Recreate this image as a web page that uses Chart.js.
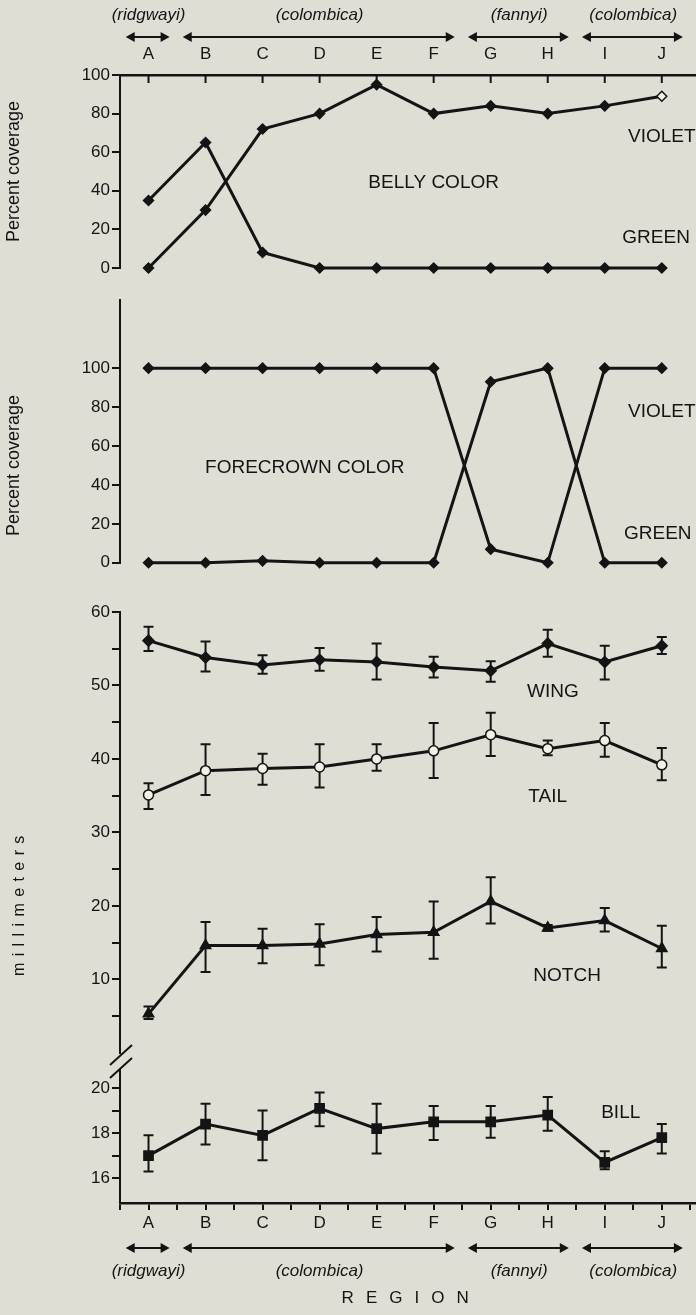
<!DOCTYPE html>
<html>
<head>
<meta charset="utf-8">
<script src="https://cdn.jsdelivr.net/npm/chart.js@4.4.1/dist/chart.umd.min.js"></script>
<style>
  body { margin: 0; background: #dfded5; width: 696px; height: 1315px; position: relative; overflow: hidden; }
  canvas { position: absolute; left: 0; }
</style>
</head>
<body>
<canvas id="belly" width="696" height="290" style="top:0"></canvas>
<canvas id="crown" width="696" height="290" style="top:285px"></canvas>
<canvas id="size" width="696" height="475" style="top:590px"></canvas>
<canvas id="bill" width="696" height="275" style="top:1040px"></canvas>
<script>
const ink = '#141414';
const paper = '#f1f0e9';
const SANS = "'Liberation Sans', Arial, sans-serif";

// regions and subspecies ranges
const regions = ['A', 'B', 'C', 'D', 'E', 'F', 'G', 'H', 'I', 'J'];
const subspecies = ['(ridgwayi)', '(colombica)', '(fannyi)', '(colombica)'];
const subspeciesFirst = [0, 1, 6, 8];
const subspeciesLast = [0, 5, 7, 9];

// percent coverage
const bellyViolet = [0, 30, 72, 80, 95, 80, 84, 80, 84, 89];
const bellyGreen = [35, 65, 8, 0, 0, 0, 0, 0, 0, 0];
const crownViolet = [100, 100, 100, 100, 100, 100, 7, 0, 100, 100];
const crownGreen = [0, 0, 1, 0, 0, 0, 93, 100, 0, 0];

// millimeters, mean with range bars
const wing = [56.1, 53.8, 52.8, 53.5, 53.2, 52.5, 52.0, 55.7, 53.2, 55.4];
const wingLow = [54.7, 51.9, 51.6, 52.0, 50.8, 51.1, 50.5, 53.9, 50.8, 54.3];
const wingHigh = [58.0, 56.0, 54.1, 55.1, 55.7, 53.9, 53.3, 57.6, 55.4, 56.6];
const tail = [35.1, 38.4, 38.7, 38.9, 40.0, 41.1, 43.3, 41.4, 42.5, 39.2];
const tailLow = [33.2, 35.1, 36.5, 36.1, 38.4, 37.4, 40.4, 40.5, 40.3, 37.1];
const tailHigh = [36.7, 42.0, 40.7, 42.0, 42.0, 44.9, 46.3, 42.5, 44.9, 41.5];
const notch = [5.3, 14.6, 14.6, 14.8, 16.1, 16.4, 20.6, 17.0, 18.0, 14.2];
const notchLow = [4.6, 11.0, 12.2, 11.9, 13.8, 12.8, 17.6, 16.6, 16.5, 11.6];
const notchHigh = [6.3, 17.8, 16.9, 17.5, 18.5, 20.6, 23.9, 17.4, 19.7, 17.3];
const bill = [17.0, 18.4, 17.9, 19.1, 18.2, 18.5, 18.5, 18.8, 16.7, 17.8];
const billLow = [16.3, 17.5, 16.8, 18.3, 17.1, 17.7, 17.8, 18.1, 16.4, 17.1];
const billHigh = [17.9, 19.3, 19.0, 19.8, 19.3, 19.2, 19.2, 19.6, 17.2, 18.4];

function series(label, values, style, radius, fill) {
  return {
    label: label,
    data: values.map((v, i) => ({ x: i, y: v })),
    borderColor: ink,
    borderWidth: 3,
    pointStyle: style,
    pointRadius: radius,
    pointBackgroundColor: fill || ink,
    pointBorderColor: ink,
    pointBorderWidth: 1.5,
    tension: 0,
    clip: false
  };
}

function withBars(ds, low, high) {
  ds.errLow = low;
  ds.errHigh = high;
  return ds;
}

function arrow(ctx, x1, x2, y) {
  const h = 9, w = 5;
  ctx.lineWidth = 2;
  ctx.beginPath();
  ctx.moveTo(x1 + h - 2, y);
  ctx.lineTo(x2 - h + 2, y);
  ctx.stroke();
  ctx.beginPath();
  ctx.moveTo(x1, y); ctx.lineTo(x1 + h, y - w); ctx.lineTo(x1 + h, y + w); ctx.closePath();
  ctx.moveTo(x2, y); ctx.lineTo(x2 - h, y - w); ctx.lineTo(x2 - h, y + w); ctx.closePath();
  ctx.fill();
}

const decor = {
  id: 'decor',
  beforeDatasetsDraw(chart) {
    const { ctx, scales: { x, y } } = chart;
    ctx.save();
    ctx.strokeStyle = ink;
    ctx.lineWidth = 2;
    chart.data.datasets.forEach(ds => {
      if (!ds.errLow) return;
      ds.errLow.forEach((lo, i) => {
        const px = x.getPixelForValue(i);
        const top = y.getPixelForValue(ds.errHigh[i]);
        const bot = y.getPixelForValue(lo);
        ctx.beginPath();
        ctx.moveTo(px, top); ctx.lineTo(px, bot);
        ctx.moveTo(px - 5, top); ctx.lineTo(px + 5, top);
        ctx.moveTo(px - 5, bot); ctx.lineTo(px + 5, bot);
        ctx.stroke();
      });
    });
    ctx.restore();
  },
  afterDraw(chart, args, o) {
    const { ctx, chartArea: a, scales: { x, y } } = chart;
    ctx.save();
    ctx.fillStyle = ink;
    ctx.strokeStyle = ink;

    if (o.innerTicks) {
      ctx.lineWidth = 2;
      regions.forEach((r, i) => {
        const px = x.getPixelForValue(i);
        ctx.beginPath(); ctx.moveTo(px, a.top); ctx.lineTo(px, a.top + 8); ctx.stroke();
      });
    }

    if (o.groups) {
      const yArrow = o.groups === 'top' ? a.top - 38 : a.bottom + 45;
      const yText = o.groups === 'top' ? a.top - 60 : a.bottom + 68;
      ctx.font = 'italic 17px ' + SANS;
      ctx.textAlign = 'center';
      ctx.textBaseline = 'middle';
      subspecies.forEach((name, i) => {
        const x1 = x.getPixelForValue(subspeciesFirst[i] - 0.4);
        const x2 = x.getPixelForValue(subspeciesLast[i] + 0.37);
        arrow(ctx, x1, x2, yArrow);
        ctx.fillText(name, x.getPixelForValue((subspeciesFirst[i] + subspeciesLast[i]) / 2), yText);
      });
    }

    (o.labels || []).forEach(l => {
      ctx.font = '19px ' + SANS;
      ctx.textAlign = 'center';
      ctx.textBaseline = 'middle';
      ctx.fillText(l.text, x.getPixelForValue(l.x), y.getPixelForValue(l.y));
    });

    if (o.yTitle) {
      ctx.save();
      ctx.translate(o.yTitle.left, y.getPixelForValue(o.yTitle.at));
      ctx.rotate(-Math.PI / 2);
      ctx.font = o.yTitle.font;
      ctx.letterSpacing = (o.yTitle.spacing || 0) + 'px';
      ctx.textAlign = 'center';
      ctx.textBaseline = 'middle';
      ctx.fillText(o.yTitle.text, (o.yTitle.spacing || 0) / 2, 0);
      ctx.restore();
    }

    if (o.axisBreak) {
      const L = a.left, T = a.top;
      ctx.lineWidth = 2;
      ctx.beginPath();
      ctx.moveTo(L - 10, T - 5); ctx.lineTo(L + 12, T - 25);
      ctx.moveTo(L - 10, T + 8); ctx.lineTo(L + 12, T - 12);
      ctx.stroke();
    }

    if (o.xTitle) {
      ctx.font = '17px ' + SANS;
      ctx.letterSpacing = '12px';
      ctx.textAlign = 'center';
      ctx.textBaseline = 'middle';
      ctx.fillText(o.xTitle, x.getPixelForValue(4.5) + 6, a.bottom + 95);
    }
    ctx.restore();
  }
};
Chart.register(decor);

function yAxis(min, max, step, labelEvery, keep) {
  return {
    type: 'linear',
    min: min,
    max: max,
    afterFit: s => { s.width = 120; },
    afterBuildTicks: s => {
      const t = [];
      for (let v = keep[0]; v <= keep[1] + 1e-9; v += step) t.push({ value: +v.toFixed(2) });
      s.ticks = t;
    },
    border: { display: true, color: ink, width: 2 },
    grid: { drawOnChartArea: false, drawTicks: true, tickLength: 8, color: ink, lineWidth: 2 },
    ticks: {
      color: ink,
      padding: 2,
      font: { family: SANS, size: 17 },
      callback: v => (Math.abs(v / labelEvery - Math.round(v / labelEvery)) < 1e-6 ? String(v) : '')
    }
  };
}

const xHidden = { type: 'linear', min: -0.5, max: 9.6, display: false };

function baseOptions(padding, xScale, yScale, decorOpts) {
  return {
    responsive: false,
    animation: false,
    events: [],
    layout: { padding: padding, autoPadding: false },
    scales: { x: xScale, y: yScale },
    plugins: { legend: { display: false }, tooltip: { enabled: false }, decor: decorOpts }
  };
}

// belly color
const bellyFill = bellyViolet.map((v, i) => (i === bellyViolet.length - 1 ? paper : ink));
new Chart(document.getElementById('belly'), {
  type: 'line',
  data: { datasets: [series('Violet', bellyViolet, 'rectRot', 5, bellyFill), series('Green', bellyGreen, 'rectRot', 5)] },
  options: baseOptions({ left: 0, right: 0, top: 0, bottom: 22 }, {
    type: 'linear', min: -0.5, max: 9.6, position: 'top',
    afterFit: s => { s.height = 75; s.paddingLeft = 0; s.paddingRight = 0; },
    afterBuildTicks: s => { s.ticks = regions.map((r, i) => ({ value: i })); },
    border: { display: true, color: ink, width: 2.5 },
    grid: { drawOnChartArea: false, drawTicks: false },
    ticks: { color: ink, padding: 10, autoSkip: false, maxRotation: 0, font: { family: SANS, size: 17 }, callback: v => regions[v] || '' }
  }, yAxis(0, 100, 10, 20, [0, 100]), {
    innerTicks: true,
    groups: 'top',
    labels: [
      { text: 'BELLY COLOR', x: 5.0, y: 44 },
      { text: 'VIOLET', x: 9.0, y: 68 },
      { text: 'GREEN', x: 8.9, y: 15.5 }
    ],
    yTitle: { text: 'Percent coverage', at: 50, left: 14, font: '18px ' + SANS }
  })
});

// forecrown color
new Chart(document.getElementById('crown'), {
  type: 'line',
  data: { datasets: [series('Violet', crownViolet, 'rectRot', 5), series('Green', crownGreen, 'rectRot', 5)] },
  options: baseOptions({ left: 0, right: 0, top: 15, bottom: 11 }, xHidden, yAxis(0, 135, 20, 20, [0, 100]), {
    labels: [
      { text: 'FORECROWN COLOR', x: 2.74, y: 48.6 },
      { text: 'VIOLET', x: 9.0, y: 77.7 },
      { text: 'GREEN', x: 8.93, y: 14.8 }
    ],
    yTitle: { text: 'Percent coverage', at: 50, left: 14, font: '18px ' + SANS }
  })
});

// wing, tail, notch
new Chart(document.getElementById('size'), {
  type: 'line',
  data: {
    datasets: [
      withBars(series('Wing', wing, 'rectRot', 5.5), wingLow, wingHigh),
      withBars(series('Tail', tail, 'circle', 5, paper), tailLow, tailHigh),
      withBars(series('Notch', notch, 'triangle', 6), notchLow, notchHigh)
    ]
  },
  options: baseOptions({ left: 0, right: 0, top: 22, bottom: 12 }, xHidden, yAxis(0, 60, 5, 10, [5, 60]), {
    labels: [
      { text: 'WING', x: 7.09, y: 49.2 },
      { text: 'TAIL', x: 7.0, y: 34.8 },
      { text: 'NOTCH', x: 7.34, y: 10.5 }
    ],
    yTitle: { text: 'millimeters', at: 20, left: 20, font: '16px ' + SANS, spacing: 6.4 }
  })
});

// bill
new Chart(document.getElementById('bill'), {
  type: 'line',
  data: { datasets: [withBars(series('Bill', bill, 'rect', 6.5), billLow, billHigh)] },
  options: baseOptions({ left: 0, right: 0, top: 30, bottom: 0 }, {
    type: 'linear', min: -0.5, max: 9.6, position: 'bottom',
    afterFit: s => { s.height = 112; s.paddingLeft = 0; s.paddingRight = 0; },
    afterBuildTicks: s => {
      const t = [];
      for (let v = -0.5; v <= 9.5; v += 0.5) t.push({ value: v });
      s.ticks = t;
    },
    border: { display: true, color: ink, width: 2.5 },
    grid: { drawOnChartArea: false, drawTicks: true, tickLength: 7, color: ink, lineWidth: 2 },
    ticks: { color: ink, padding: 3, autoSkip: false, maxRotation: 0, font: { family: SANS, size: 17 }, callback: v => (Number.isInteger(v) ? regions[v] : '') }
  }, yAxis(14.9, 20.8, 1, 2, [16, 20]), {
    groups: 'bottom',
    axisBreak: true,
    labels: [{ text: 'BILL', x: 8.28, y: 18.9 }],
    xTitle: 'REGION'
  })
});
</script>
</body>
</html>
